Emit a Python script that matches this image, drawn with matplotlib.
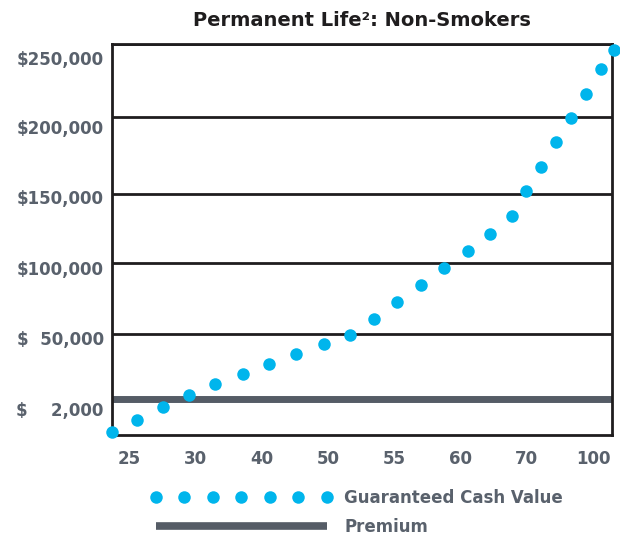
import numpy as np
import matplotlib
matplotlib.use('Agg')
import matplotlib.pyplot as plt
from matplotlib.lines import Line2D
from matplotlib.transforms import ScaledTranslation

# Data
ages = [23.7, 25.6, 27.55, 29.5, 33.0, 37.1, 41.1, 45.2, 49.4, 51.65, 53.45, 55.2,
        57.0, 58.75, 61.1, 64.4, 67.7, 69.8, 76.3, 83.2, 90.1, 96.7, 103.6, 109.6]
cash_values = [170, 830, 1560, 4950, 13100, 20500, 27800, 35200, 42600, 49300,
               60600, 72500, 84500, 96500, 108700, 121000, 134000, 152000,
               167500, 183800, 199400, 215800, 232900, 245900]
premium = 2000

x_ticks = [25, 30, 40, 50, 55, 60, 70, 100]
y_ticks = [2000, 50000, 100000, 150000, 200000, 250000]
y_labels = ['$\u2007\u20072,000', '$\u200750,000', '$100,000', '$150,000', '$200,000', '$250,000']

# the chart uses uneven (schematic) axes -> piecewise linear scales
x_knots = [0] + x_ticks + [200]
x_pos = [-5, 0, 1, 2, 3, 4, 5, 6, 7, 7 + 100 / 30]
y_knots = [-2000, 0, 2000, 50000, 100000, 150000, 200000, 250000, 300000]
y_pos = [-36, 0, 36, 101, 172, 241, 318, 391, 464]

def fx(v): return np.interp(v, x_knots, x_pos)
def ix(p): return np.interp(p, x_pos, x_knots)
def fy(v): return np.interp(v, y_knots, y_pos)
def iy(p): return np.interp(p, y_pos, y_knots)

plt.rcParams['font.family'] = ['DejaVu Sans']
gray = '#59616c'
cyan = '#00b5ec'
dark = '#1f1d1e'

fig = plt.figure(figsize=(6.2, 5.35), dpi=100)
ax = fig.add_axes([0.1806, 0.187, 0.8065, 0.731])
ax.set_xscale('function', functions=(fx, ix))
ax.set_yscale('function', functions=(fy, iy))
ax.set_xlim(23.7, 108.5)
ax.set_ylim(0, 250000)

ax.grid(axis='y', color=dark, linewidth=2, zorder=1)
ax.set_axisbelow(True)

ax.axhline(premium, color='#555c66', linewidth=5, solid_capstyle='butt', zorder=2)
ax.plot(ages, cash_values, 'o', color=cyan, markersize=9, markeredgewidth=0,
        clip_on=False, zorder=3)

for s in ax.spines.values():
    s.set_linewidth(2)
    s.set_color(dark)

ax.set_xticks(x_ticks, [str(t) for t in x_ticks])
ax.set_yticks(y_ticks, y_labels)
ax.minorticks_off()
ax.tick_params(axis='both', length=0, labelcolor=gray, labelsize=12)
ax.tick_params(axis='y', pad=6)
ax.tick_params(axis='x', pad=11)
for lab in ax.get_xticklabels() + ax.get_yticklabels():
    lab.set_fontweight('bold')

# labels in the original sit a bit below their lines
for lab, dy in zip(ax.get_yticklabels(), [10, 4, 5, 3, 10, 14]):
    lab.set_transform(lab.get_transform() + ScaledTranslation(0, -dy / 100, fig.dpi_scale_trans))

ax.set_title('Permanent Life²: Non-Smokers', fontsize=14, fontweight='bold',
             color=dark, pad=13)

handles = [Line2D([], [], linestyle='none', marker='o', color=cyan, markersize=9,
                  markeredgewidth=0),
           Line2D([], [], color='#555c66', linewidth=5.5, solid_capstyle='butt')]
leg = fig.legend(handles, ['Guaranteed Cash Value', 'Premium'], loc='upper left',
                 bbox_to_anchor=(0.2435, 0.0855), frameon=False, numpoints=7,
                 handlelength=10.85, handletextpad=0.75, labelspacing=0.62,
                 prop={'size': 12, 'weight': 'bold'}, borderpad=0, borderaxespad=0)
for t in leg.get_texts():
    t.set_color(gray)

fig.savefig('out.png', dpi=100)
